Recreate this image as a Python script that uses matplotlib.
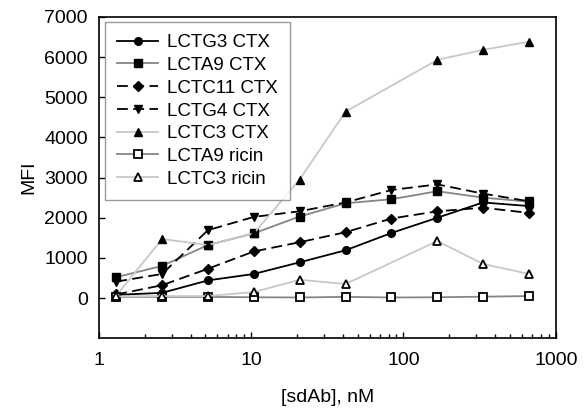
import matplotlib.pyplot as plt
import numpy as np

plt.rcParams['font.family'] = ['Liberation Sans', 'DejaVu Sans']
plt.rcParams['font.size'] = 14

# twofold dilution series, nM
conc = [1.3, 2.6, 5.2, 10.4, 20.8, 41.7, 83.3, 167, 333, 667]
# LCTC3 series were not measured at 83.3 nM
conc_c3 = [1.3, 2.6, 5.2, 10.4, 20.8, 41.7, 167, 333, 667]

lctg3_ctx = [80, 130, 440, 600, 890, 1190, 1620, 2000, 2380, 2290]
lcta9_ctx = [520, 800, 1320, 1610, 2030, 2360, 2460, 2660, 2500, 2400]
lctc11_ctx = [90, 320, 730, 1160, 1390, 1640, 1980, 2160, 2250, 2120]
lctg4_ctx = [410, 600, 1690, 2020, 2160, 2380, 2690, 2830, 2600, 2410]
lctc3_ctx = [60, 1470, 1320, 1610, 2950, 4640, 5930, 6180, 6380]
lcta9_ricin = [30, 30, 30, 20, 15, 30, 15, 20, 35, 50]
lctc3_ricin = [40, 50, 50, 150, 455, 350, 1420, 850, 600]

labels = ['LCTG3 CTX', 'LCTA9 CTX', 'LCTC11 CTX', 'LCTG4 CTX',
          'LCTC3 CTX', 'LCTA9 ricin', 'LCTC3 ricin']

fig = plt.figure(figsize=(5.85, 4.11), dpi=100)
ax = fig.add_axes([0.169, 0.177, 0.781, 0.782])

dash = (0, (6, 3))
ms = 5.5
ax.plot(conc, lctg3_ctx, color='black', lw=1.3, marker='o', ms=ms,
        mfc='black', mec='black', label=labels[0])
ax.plot(conc, lcta9_ctx, color='#858585', lw=1.3, marker='s', ms=ms,
        mfc='black', mec='black', label=labels[1])
ax.plot(conc, lctc11_ctx, color='black', lw=1.3, ls=dash, marker='D', ms=5,
        mfc='black', mec='black', label=labels[2])
ax.plot(conc, lctg4_ctx, color='black', lw=1.3, ls=dash, marker='v', ms=ms,
        mfc='black', mec='black', label=labels[3])
ax.plot(conc_c3, lctc3_ctx, color='#c8c8c8', lw=1.3, marker='^', ms=ms,
        mfc='black', mec='black', label=labels[4])
ax.plot(conc, lcta9_ricin, color='#858585', lw=1.3, marker='s', ms=ms,
        mfc='white', mec='black', mew=1.3, label=labels[5])
ax.plot(conc_c3, lctc3_ricin, color='#c8c8c8', lw=1.3, marker='^', ms=ms + 0.5,
        mfc='white', mec='black', mew=1.3, label=labels[6])

ax.set_xscale('log')
ax.set_xlim(1, 1000)
ax.set_ylim(-1000, 7000)
ax.set_yticks(np.arange(0, 7001, 1000))
ax.set_xticks([1, 10, 100, 1000])
ax.set_xticklabels(['1', '10', '100', '1000'])

for s in ax.spines.values():
    s.set_linewidth(1.2)
ax.tick_params(axis='both', which='major', direction='in', length=4, width=1)
ax.tick_params(axis='x', which='minor', direction='in', length=3, width=1)
ax.tick_params(axis='x', pad=10)
ax.tick_params(axis='y', pad=8)

ax.set_xlabel('[sdAb], nM', labelpad=14)
ax.set_ylabel('MFI', labelpad=5)

leg = ax.legend(loc='upper left', bbox_to_anchor=(0.013, 0.984),
                borderaxespad=0, fancybox=False, fontsize=13.5,
                handlelength=2.2, handletextpad=0.45, labelspacing=0.3,
                borderpad=0.65)
leg.get_frame().set_edgecolor('#808080')
leg.get_frame().set_linewidth(1.0)

fig.savefig('out.png', dpi=100)
